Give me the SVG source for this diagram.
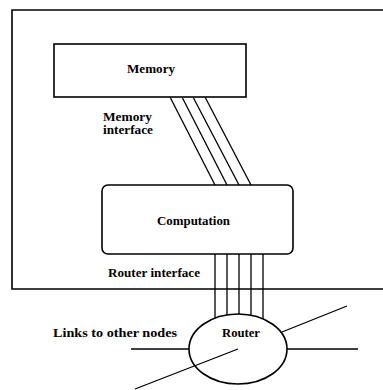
<svg xmlns="http://www.w3.org/2000/svg" width="383" height="390" viewBox="0 0 383 390">
<style>
.box{fill:none;stroke:#000;stroke-width:1.6}
.ln{stroke:#000;stroke-width:1.3;fill:none}
.t{font-family:"Liberation Serif","Times New Roman",serif;font-weight:bold;font-size:12px;fill:#000}
</style>
<rect width="383" height="390" fill="#fff"/>
<g id="node-boundary">
<path class="box" d="M383,10 H12 V289 H383"/>
</g>
<g id="memory">
<rect class="box" x="54" y="44" width="192" height="53"/>
<text class="t" x="127" y="73" textLength="48" lengthAdjust="spacingAndGlyphs">Memory</text>
</g>
<g id="computation">
<rect class="box" x="102" y="185" width="191" height="69" rx="6"/>
<text class="t" x="157" y="225" textLength="73" lengthAdjust="spacingAndGlyphs">Computation</text>
</g>
<g id="router">
<ellipse class="box" cx="238" cy="349" rx="49" ry="35"/>
<text class="t" x="222" y="337" textLength="38" lengthAdjust="spacingAndGlyphs">Router</text>
</g>
<g id="connectors">
<line class="ln" x1="170" y1="97" x2="215" y2="185"/>
<line class="ln" x1="182" y1="97" x2="227" y2="185"/>
<line class="ln" x1="193" y1="97" x2="239" y2="185"/>
<line class="ln" x1="205" y1="97" x2="251" y2="185"/>
<line class="ln" x1="215" y1="254" x2="215" y2="318"/>
<line class="ln" x1="227" y1="254" x2="227" y2="315"/>
<line class="ln" x1="239" y1="254" x2="239" y2="314"/>
<line class="ln" x1="251" y1="254" x2="251" y2="315.3"/>
<line class="ln" x1="263" y1="254" x2="263" y2="319"/>
<line class="ln" x1="131" y1="349" x2="189" y2="349"/>
<line class="ln" x1="287" y1="349" x2="358" y2="349"/>
<line class="ln" x1="282" y1="332" x2="347" y2="306"/>
<line class="ln" x1="238" y1="349" x2="135" y2="389"/>
</g>
<g id="labels">
<text class="t" x="103" y="121" textLength="49" lengthAdjust="spacingAndGlyphs">Memory</text>
<text class="t" x="103" y="134" textLength="50" lengthAdjust="spacingAndGlyphs">interface</text>
<text class="t" x="108" y="277" textLength="92" lengthAdjust="spacingAndGlyphs">Router interface</text>
<text class="t" x="53" y="337" textLength="124" lengthAdjust="spacingAndGlyphs">Links to other nodes</text>
</g>
</svg>
